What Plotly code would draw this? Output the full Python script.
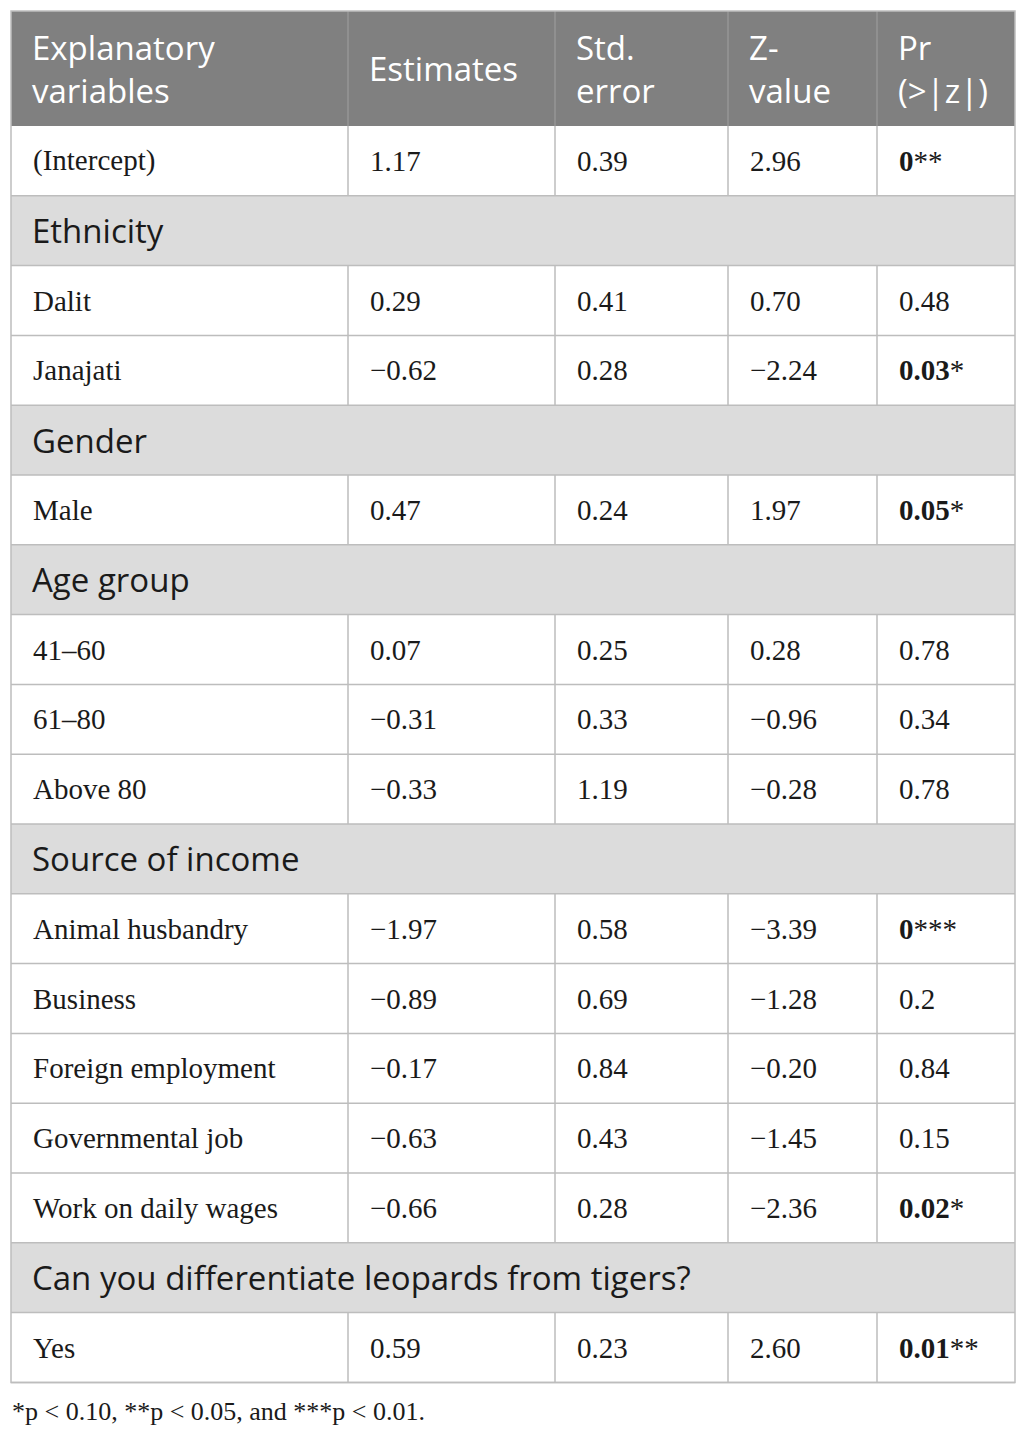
import plotly.graph_objects as go

# table content
HEADERS = ["Explanatory<br>variables", "Estimates", "Std.<br>error", "Z-<br>value", "Pr<br>(>|z|)"]

# each row: (label, estimate, std error, z value, p value, stars) ; section rows have only a label
ROWS = [
    ("(Intercept)", "1.17", "0.39", "2.96", "0", "**"),
    ("Ethnicity",),
    ("Dalit", "0.29", "0.41", "0.70", "0.48", ""),
    ("Janajati", "\u22120.62", "0.28", "\u22122.24", "0.03", "*"),
    ("Gender",),
    ("Male", "0.47", "0.24", "1.97", "0.05", "*"),
    ("Age group",),
    ("41\u201360", "0.07", "0.25", "0.28", "0.78", ""),
    ("61\u201380", "\u22120.31", "0.33", "\u22120.96", "0.34", ""),
    ("Above 80", "\u22120.33", "1.19", "\u22120.28", "0.78", ""),
    ("Source of income",),
    ("Animal husbandry", "\u22121.97", "0.58", "\u22123.39", "0", "***"),
    ("Business", "\u22120.89", "0.69", "\u22121.28", "0.2", ""),
    ("Foreign employment", "\u22120.17", "0.84", "\u22120.20", "0.84", ""),
    ("Governmental job", "\u22120.63", "0.43", "\u22121.45", "0.15", ""),
    ("Work on daily wages", "\u22120.66", "0.28", "\u22122.36", "0.02", "*"),
    ("Can you differentiate leopards from tigers?",),
    ("Yes", "0.59", "0.23", "2.60", "0.01", "**"),
]

FOOTNOTE = "*p < 0.10, **p < 0.05, and ***p < 0.01."

# layout in page pixels (the page body has an 8px margin)
W, H = 1026, 1435
BODY = 8
COL_EDGES = [11, 348, 555, 728, 877, 1015]
TOP = 11
HEAD_H = 115
ROW_H = 69.8
PAD = 21

HEAD_BG = "#808080"
SECTION_BG = "#dcdcdc"
LINE = "#bdbdbd"
SANS = "Open Sans"
SERIF = "Liberation Serif"

fig = go.Figure()
shapes = []
annotations = []

# header
shapes.append(dict(type="rect", x0=COL_EDGES[0], x1=COL_EDGES[-1], y0=TOP, y1=TOP + HEAD_H,
                   fillcolor=HEAD_BG, line=dict(width=0), layer="below"))
for i, h in enumerate(HEADERS):
    annotations.append(dict(x=COL_EDGES[i] + PAD - 2, y=TOP + HEAD_H / 2, text=h,
                            xanchor="left", yanchor="middle", align="left", showarrow=False,
                            font=dict(family=SANS, size=33, color="white")))
    if i > 0:
        shapes.append(dict(type="line", x0=COL_EDGES[i], x1=COL_EDGES[i], y0=TOP, y1=TOP + HEAD_H,
                           line=dict(color="#a0a0a0", width=1)))

y = TOP + HEAD_H
for row in ROWS:
    y0, y1 = y, y + ROW_H
    ym = (y0 + y1) / 2
    if len(row) == 1:
        shapes.append(dict(type="rect", x0=COL_EDGES[0], x1=COL_EDGES[-1], y0=y0, y1=y1,
                           fillcolor=SECTION_BG, line=dict(width=0), layer="below"))
        annotations.append(dict(x=COL_EDGES[0] + PAD - 2, y=ym, text=row[0],
                                xanchor="left", yanchor="middle", showarrow=False,
                                font=dict(family=SANS, size=33, color="#1a1a1a")))
    else:
        label, est, se, z, p, stars = row
        if stars:
            ptxt = "<b>%s</b>%s" % (p, stars)
        else:
            ptxt = p
        for i, t in enumerate([label, est, se, z, ptxt]):
            annotations.append(dict(x=COL_EDGES[i] + PAD - 1, y=ym, text=t,
                                    xanchor="left", yanchor="middle", showarrow=False,
                                    font=dict(family=SERIF, size=29, color="#1a1a1a")))
            if i > 0:
                shapes.append(dict(type="line", x0=COL_EDGES[i], x1=COL_EDGES[i], y0=y0, y1=y1,
                                   line=dict(color=LINE, width=1.5)))
    shapes.append(dict(type="line", x0=COL_EDGES[0], x1=COL_EDGES[-1], y0=y1, y1=y1,
                       line=dict(color=LINE, width=1.5)))
    y = y1

# outer border
shapes.append(dict(type="rect", x0=COL_EDGES[0], x1=COL_EDGES[-1], y0=TOP, y1=y,
                   fillcolor="rgba(0,0,0,0)", line=dict(color=LINE, width=1.5)))

annotations.append(dict(x=COL_EDGES[0] - 1, y=y + 29, text=FOOTNOTE, xanchor="left", yanchor="middle",
                        showarrow=False, font=dict(family=SERIF, size=26, color="#1a1a1a")))

fig.update_layout(
    width=W - 2 * BODY, height=H - 2 * BODY,
    margin=dict(l=0, r=0, t=0, b=0),
    paper_bgcolor="white", plot_bgcolor="white",
    xaxis=dict(range=[BODY, W - BODY], visible=False, fixedrange=True),
    yaxis=dict(range=[H - BODY, BODY], visible=False, fixedrange=True),
    shapes=shapes, annotations=annotations,
    showlegend=False,
)

fig.write_html("out.html")
